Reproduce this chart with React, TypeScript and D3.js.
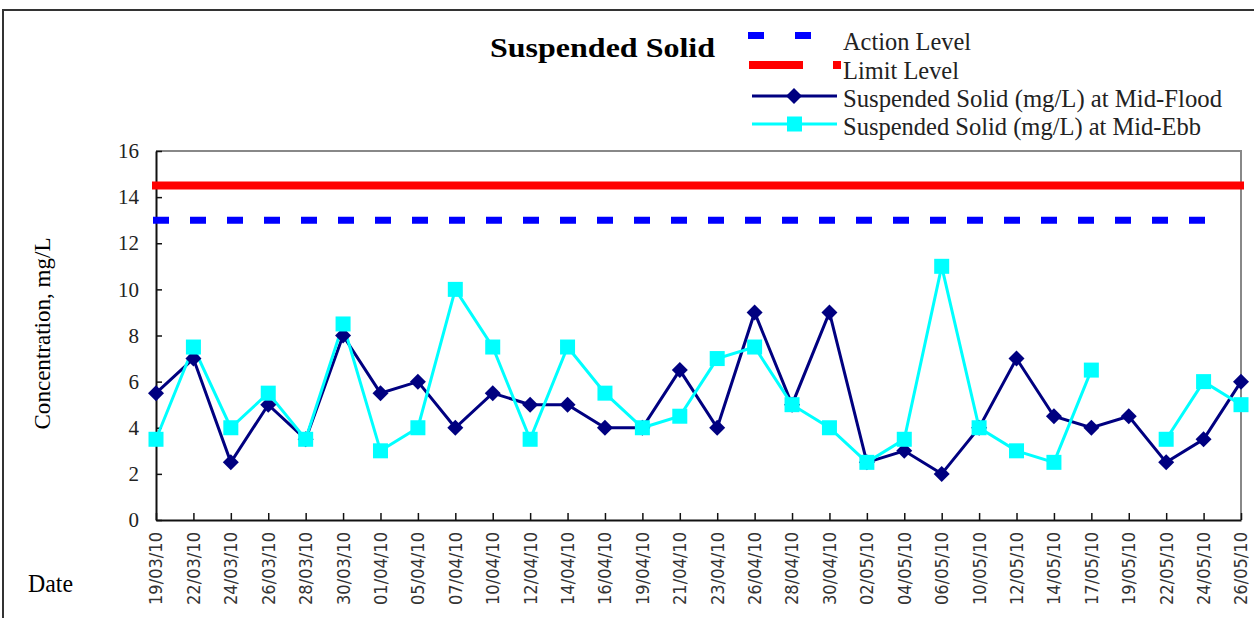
import React, { useEffect, useRef } from "react";
import * as d3 from "d3";

const dates = [
  "19/03/10", "22/03/10", "24/03/10", "26/03/10", "28/03/10", "30/03/10",
  "01/04/10", "05/04/10", "07/04/10", "10/04/10", "12/04/10", "14/04/10",
  "16/04/10", "19/04/10", "21/04/10", "23/04/10", "26/04/10", "28/04/10",
  "30/04/10", "02/05/10", "04/05/10", "06/05/10", "10/05/10", "12/05/10",
  "14/05/10", "17/05/10", "19/05/10", "22/05/10", "24/05/10", "26/05/10",
];

const midFlood = [
  5.5, 7, 2.5, 5, 3.5, 8, 5.5, 6, 4, 5.5, 5, 5, 4, 4, 6.5, 4, 9, 5, 9, 2.5,
  3, 2, 4, 7, 4.5, 4, 4.5, 2.5, 3.5, 6,
];

const midEbb: (number | null)[] = [
  3.5, 7.5, 4, 5.5, 3.5, 8.5, 3, 4, 10, 7.5, 3.5, 7.5, 5.5, 4, 4.5, 7, 7.5, 5,
  4, 2.5, 3.5, 11, 4, 3, 2.5, 6.5, null, 3.5, 6, 5,
];

const yTicks = [0, 2, 4, 6, 8, 10, 12, 14, 16];
const actionLevel = 13;
const limitLevel = 14.5;

const serif = "'Liberation Serif', 'Times New Roman', Tinos, serif";
const sans = "'DejaVu Sans', sans-serif";

const App = () => {
  const ref = useRef<SVGSVGElement>(null);

  useEffect(() => {
    const width = 1254;
    const height = 618;
    const left = 156;
    const right = 1241;
    const top = 151;
    const bottom = 520;

    const svg = d3.select(ref.current);
    svg.selectAll("*").remove();
    svg.attr("width", width).attr("height", height);

    // outer frame
    svg.append("path")
      .attr("d", `M3,${height}V10H${width}`)
      .attr("fill", "none")
      .attr("stroke", "#333")
      .attr("stroke-width", 2);

    const x = d3.scalePoint<string>().domain(dates).range([left, right]);
    const y = d3.scaleLinear().domain([0, 16]).range([bottom, top]);

    // plot border (top / right in gray)
    svg.append("path")
      .attr("d", `M${left},${top}H${right}V${bottom}`)
      .attr("fill", "none")
      .attr("stroke", "#888")
      .attr("stroke-width", 2);

    // y axis
    svg.append("g")
      .attr("transform", `translate(${left},0)`)
      .call(d3.axisLeft(y).tickValues(yTicks).tickSize(-6).tickPadding(17).tickSizeOuter(0))
      .call((g) => g.select(".domain").attr("stroke", "#111").attr("stroke-width", 2))
      .call((g) => g.selectAll(".tick line").attr("stroke", "#111").attr("stroke-width", 1.5))
      .call((g) =>
        g.selectAll(".tick text")
          .attr("font-family", serif)
          .attr("font-size", 21)
          .attr("fill", "#222")
      );

    // x axis
    svg.append("g")
      .attr("transform", `translate(0,${bottom})`)
      .call(d3.axisBottom(x).tickSize(-7).tickSizeOuter(0))
      .call((g) => g.select(".domain").attr("stroke", "#111").attr("stroke-width", 2))
      .call((g) => g.selectAll(".tick line").attr("stroke", "#111").attr("stroke-width", 1.5))
      .call((g) =>
        g.selectAll(".tick text")
          .attr("font-family", sans)
          .attr("font-size", 17)
          .attr("fill", "#333")
          .attr("transform", "rotate(-90)")
          .attr("text-anchor", "end")
          .attr("dy", "0.35em")
          .attr("x", -12)
          .attr("y", 0)
          .attr("textLength", 73)
          .attr("lengthAdjust", "spacingAndGlyphs")
      );

    // limit & action lines
    svg.append("line")
      .attr("x1", left - 4).attr("x2", right + 3)
      .attr("y1", y(limitLevel)).attr("y2", y(limitLevel))
      .attr("stroke", "#ff0000").attr("stroke-width", 8);

    svg.append("line")
      .attr("x1", left - 3).attr("x2", 1216)
      .attr("y1", y(actionLevel)).attr("y2", y(actionLevel))
      .attr("stroke", "#0000ff").attr("stroke-width", 7)
      .attr("stroke-dasharray", "16,21");

    // series
    const floodLine = d3.line<number>()
      .x((_, i) => x(dates[i])!)
      .y((d) => y(d));
    svg.append("path")
      .attr("d", floodLine(midFlood))
      .attr("fill", "none")
      .attr("stroke", "#000080")
      .attr("stroke-width", 3);

    const ebbLine = d3.line<number | null>()
      .defined((d) => d !== null)
      .x((_, i) => x(dates[i])!)
      .y((d) => y(d as number));
    svg.append("path")
      .attr("d", ebbLine(midEbb))
      .attr("fill", "none")
      .attr("stroke", "#00ffff")
      .attr("stroke-width", 3);

    const diamond = (cx: number, cy: number, r: number) =>
      `M${cx},${cy - r}L${cx + r},${cy}L${cx},${cy + r}L${cx - r},${cy}Z`;

    svg.append("g")
      .selectAll("path")
      .data(midFlood)
      .join("path")
      .attr("d", (d, i) => diamond(x(dates[i])!, y(d), 8))
      .attr("fill", "#000080");

    svg.append("g")
      .selectAll("rect")
      .data(midEbb.map((v, i) => ({ v, d: dates[i] })).filter((p) => p.v !== null))
      .join("rect")
      .attr("x", (p) => x(p.d)! - 7.5)
      .attr("y", (p) => y(p.v as number) - 7.5)
      .attr("width", 15)
      .attr("height", 15)
      .attr("fill", "#00ffff");

    // titles
    svg.append("text")
      .attr("x", 490).attr("y", 57)
      .attr("font-family", serif).attr("font-weight", "bold")
      .attr("font-size", 28).attr("textLength", 225).attr("lengthAdjust", "spacingAndGlyphs")
      .text("Suspended Solid");

    svg.append("text")
      .attr("transform", `translate(50,${(top + bottom) / 2 - 2}) rotate(-90)`)
      .attr("text-anchor", "middle")
      .attr("font-family", serif).attr("font-size", 24)
      .attr("textLength", 192).attr("lengthAdjust", "spacingAndGlyphs")
      .text("Concentration, mg/L");

    svg.append("text")
      .attr("x", 28).attr("y", 592)
      .attr("font-family", serif).attr("font-size", 25)
      .attr("textLength", 45).attr("lengthAdjust", "spacingAndGlyphs")
      .text("Date");

    // legend
    const lg = svg.append("g");
    const tx = 843;
    const entries = [
      { label: "Action Level", y: 50, w: 128 },
      { label: "Limit Level", y: 79, w: 116 },
      { label: "Suspended Solid (mg/L) at Mid-Flood", y: 107, w: 379 },
      { label: "Suspended Solid (mg/L) at Mid-Ebb", y: 135, w: 358 },
    ];
    lg.selectAll("text")
      .data(entries)
      .join("text")
      .attr("x", tx).attr("y", (e) => e.y)
      .attr("font-family", serif).attr("font-size", 25)
      .attr("fill", "#222")
      .attr("textLength", (e) => e.w).attr("lengthAdjust", "spacingAndGlyphs")
      .text((e) => e.label);

    lg.append("rect").attr("x", 748).attr("y", 32).attr("width", 16).attr("height", 7).attr("fill", "#0000ff");
    lg.append("rect").attr("x", 795).attr("y", 32).attr("width", 16).attr("height", 7).attr("fill", "#0000ff");
    lg.append("rect").attr("x", 749).attr("y", 61).attr("width", 54).attr("height", 8).attr("fill", "#ff0000");
    lg.append("rect").attr("x", 833).attr("y", 61).attr("width", 8).attr("height", 8).attr("fill", "#ff0000");
    lg.append("line").attr("x1", 752).attr("x2", 837).attr("y1", 96).attr("y2", 96)
      .attr("stroke", "#000080").attr("stroke-width", 3);
    lg.append("path").attr("d", diamond(794, 96, 8)).attr("fill", "#000080");
    lg.append("line").attr("x1", 752).attr("x2", 837).attr("y1", 124).attr("y2", 124)
      .attr("stroke", "#00ffff").attr("stroke-width", 3);
    lg.append("rect").attr("x", 787).attr("y", 116.5).attr("width", 15).attr("height", 15).attr("fill", "#00ffff");
  }, []);

  return (
    <svg
      ref={ref}
      style={{ position: "absolute", left: 0, top: 0, background: "#fff" }}
    />
  );
};

export default App;
